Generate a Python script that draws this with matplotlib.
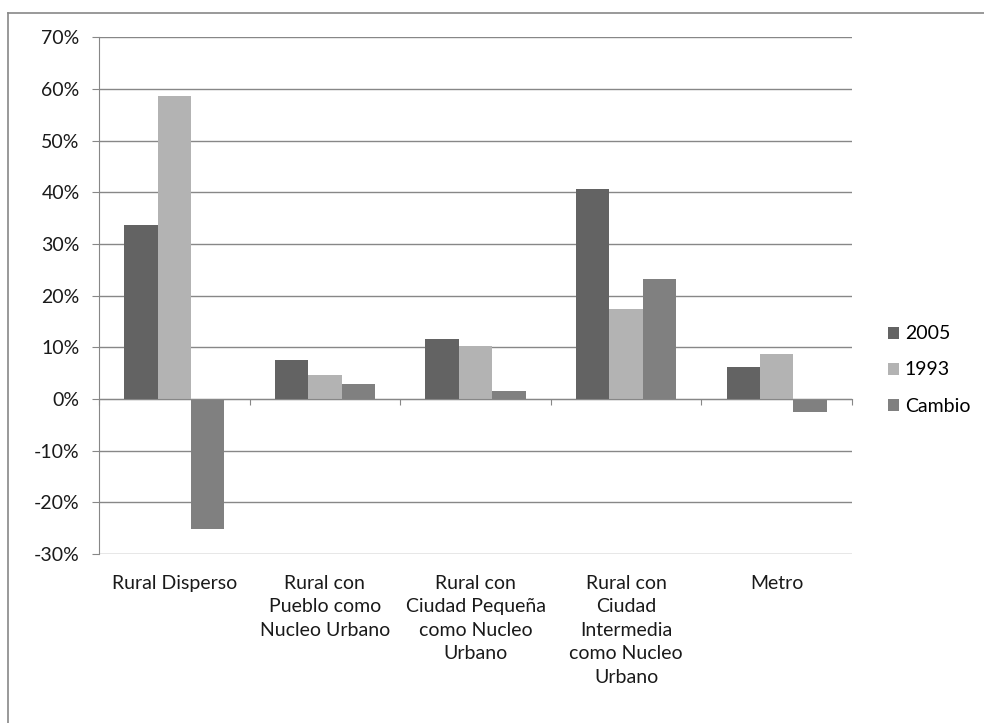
import numpy as np
import matplotlib.pyplot as plt
from matplotlib.lines import Line2D
from matplotlib.patches import Patch

# Data
categories = ['Rural Disperso',
              'Rural con\nPueblo como\nNucleo Urbano',
              'Rural con\nCiudad Pequeña\ncomo Nucleo\nUrbano',
              'Rural con\nCiudad\nIntermedia\ncomo Nucleo\nUrbano',
              'Metro']
series_names = ['2005', '1993', 'Cambio']
values_2005 = [33.6, 7.5, 11.7, 40.7, 6.2]
values_1993 = [58.7, 4.6, 10.2, 17.5, 8.8]
values_cambio = [-25.1, 2.9, 1.5, 23.3, -2.5]
y_ticks = [-30, -20, -10, 0, 10, 20, 30, 40, 50, 60, 70]

colors = ['#636363', '#b3b3b3', '#808080']
grid_color = '#878787'

plt.rcParams['font.family'] = ['Lato', 'DejaVu Sans']
plt.rcParams['font.size'] = 14

# Initialize figure
fig = plt.figure(figsize=(9.84, 7.23), dpi=100)
ax = fig.add_axes([0.1006, 0.2338, 0.7653, 0.7146])

# Plot bars
x = np.arange(len(categories))
width = 0.222
all_series = [values_2005, values_1993, values_cambio]
for k, (vals, name) in enumerate(zip(all_series, series_names)):
    ax.bar(x + (k - 1) * width, vals, width=width, color=colors[k], label=name, zorder=3)

# Axes styling
ax.set_xlim(-0.5, len(categories) - 0.5)
ax.set_ylim(-30, 70)
ax.set_yticks(y_ticks)
ax.set_yticklabels([f'{t}%' for t in y_ticks])
ax.yaxis.grid(True, color=grid_color, linewidth=1.0, zorder=0)
ax.tick_params(axis='y', length=5, width=0.8, color=grid_color, pad=9, labelcolor='#1a1a1a')

for side in ['top', 'right']:
    ax.spines[side].set_visible(False)
ax.spines['left'].set_color(grid_color)
ax.spines['bottom'].set_color(grid_color)
ax.spines['bottom'].set_position(('data', 0))
ax.spines['bottom'].set_zorder(4)

# Category boundary ticks on the zero line
ax.set_xticks(np.arange(-0.5, len(categories), 1.0))
ax.set_xticklabels([''] * (len(categories) + 1))
ax.tick_params(axis='x', direction='out', length=4.5, width=0.8, color=grid_color)

# Category labels below plot area
trans = ax.get_xaxis_transform()
for i, cat in enumerate(categories):
    ax.text(i, -0.04, cat, transform=trans, ha='center', va='top',
            linespacing=1.47, color='#1a1a1a')

# Legend
handles = [Patch(facecolor=c, edgecolor='none') for c in colors]
fig.legend(handles, series_names, loc='center left',
           bbox_to_anchor=(888 / 984, 1 - 370 / 723), frameon=False,
           handlelength=0.58, handleheight=0.58, handletextpad=0.28,
           labelspacing=0.98, borderaxespad=0, borderpad=0)

# Chart border (top and left only, rest cropped)
fig.add_artist(Line2D([8 / 984, 1.0], [1 - 13 / 723, 1 - 13 / 723],
                      transform=fig.transFigure, color=grid_color, linewidth=1.2))
fig.add_artist(Line2D([8 / 984, 8 / 984], [0, 1 - 13 / 723],
                      transform=fig.transFigure, color=grid_color, linewidth=1.2))

fig.savefig('out.png', dpi=100, facecolor='white')
